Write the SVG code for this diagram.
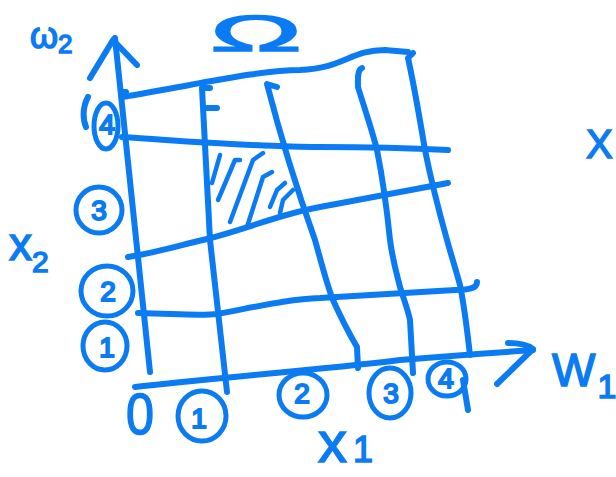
<svg xmlns="http://www.w3.org/2000/svg" width="616" height="477" viewBox="0 0 616 477">
<defs>
<style>
.s{fill:none;stroke:#0b7bf4;stroke-width:6;stroke-linecap:round;stroke-linejoin:round}
.t{stroke:#0b7bf4;stroke-width:5;fill:none}
.h{fill:none;stroke:#0b7bf4;stroke-width:4.5;stroke-linecap:round;stroke-linejoin:round}
.l{fill:#0b7bf4;font-family:"Liberation Sans",Arial,sans-serif;stroke:#0b7bf4;stroke-width:1.5}
.n{fill:#0b7bf4;font-family:"Liberation Sans",Arial,sans-serif;font-size:28px;text-anchor:middle;dominant-baseline:central;stroke:#0b7bf4;stroke-width:2}
</style>
</defs>
<rect width="616" height="477" fill="#ffffff"/>
<g id="axes">
<path class="s" d="M150,372 L115,38"/>
<path class="s" d="M90,78 L113,40 L137,65"/>
<path class="s" d="M135,387 C200,379 320,370 400,360 C440,357 490,353 533,350"/>
<path class="s" d="M508,343 C518,343 528,345 533,349 L497,384"/>
</g>
<g id="grid">
<path class="s" d="M122,97 C200,84 260,70 300,70 C345,68 350,50 385,50 L408,52"/>
<path class="s" d="M122,92 L126,92"/>
<path class="s" d="M122,137 C200,142 260,147 320,147 C370,147 410,148 448,150"/>
<path class="s" d="M128,257 C160,252 180,245 207,239 C250,228 280,214 320,207 C370,198 410,190 448,183"/>
<path class="s" d="M138,313 C180,314 200,316 217,314 C260,306 290,299 320,298 C370,295 420,292 455,290 C470,290 477,288 477,282"/>
<path class="s" d="M210,88 L202,88 L210,240 L227,392"/>
<path class="s" d="M207,108 L217,108"/>
<path class="s" d="M277,87 L267,84 C275,115 290,170 315,240 C322,265 327,285 333,300 C342,320 350,335 357,347 L358,368"/>
<path class="s" d="M362,68 C357,70 358,80 358,87 C365,110 372,130 377,150 C383,180 387,210 390,240 C393,262 397,275 400,287 C404,300 408,310 410,320 L413,373"/>
<path class="s" d="M413,53 L408,58 C415,90 420,120 425,150 C432,185 440,215 447,240 C452,258 456,270 460,285 C465,310 467,330 470,355"/>
</g>
<g id="hatch">
<path class="h" d="M220,155 L212,183"/>
<path class="h" d="M240,160 L235,160 L218,200"/>
<path class="h" d="M263,153 L253,160 L230,222"/>
<path class="h" d="M272,172 L263,177 L247,227"/>
<path class="h" d="M285,183 L277,190 L270,207"/>
<path class="h" d="M293,190 L283,200 L280,213"/>
</g>
<g id="label-omega">
<text class="l" x="210" y="51" font-size="50" textLength="92" lengthAdjust="spacingAndGlyphs">Ω</text>
</g>
<g id="label-w2">
<text class="l" x="30" y="48" font-size="36">ω<tspan font-size="26" dy="5">2</tspan></text>
</g>
<g id="label-x2">
<text class="l" x="9" y="260" font-size="46">x<tspan font-size="30" dy="12">2</tspan></text>
</g>
<g id="label-x1">
<text class="l" x="318" y="462" font-size="58">x<tspan font-size="36" dx="6">1</tspan></text>
</g>
<g id="label-W1">
<text class="l" x="552" y="386" font-size="46">W<tspan font-size="34" dy="12" dx="2">1</tspan></text>
</g>
<g id="label-X">
<text class="l" x="586" y="158" font-size="40">X</text>
</g>
<g id="y-ticks">
<path class="s" d="M88,97 C82,108 83,120 86,127"/>
<ellipse class="t" cx="106" cy="126" rx="12" ry="23"/>
<text class="n" x="107" y="124">4</text>
<circle class="t" cx="99" cy="210" r="23"/>
<text class="n" x="99" y="210">3</text>
<ellipse class="t" cx="107" cy="291" rx="26" ry="25"/>
<text class="n" x="108" y="291">2</text>
<ellipse class="t" cx="105" cy="346" rx="22" ry="24"/>
<text class="n" x="107" y="347">1</text>
</g>
<g id="x-ticks">
<text class="l" x="126" y="434" font-size="58" textLength="28" lengthAdjust="spacingAndGlyphs">0</text>
<ellipse class="t" cx="202" cy="416" rx="24" ry="25"/>
<text class="n" x="199" y="418">1</text>
<ellipse class="t" cx="303" cy="395" rx="24" ry="22"/>
<text class="n" x="302" y="393">2</text>
<ellipse class="t" cx="390" cy="393" rx="21" ry="25"/>
<text class="n" x="391" y="393">3</text>
<ellipse class="t" cx="447" cy="379" rx="19" ry="17"/>
<text class="n" x="446" y="378">4</text>
<path class="s" d="M463,380 L468,410"/>
</g>
</svg>
